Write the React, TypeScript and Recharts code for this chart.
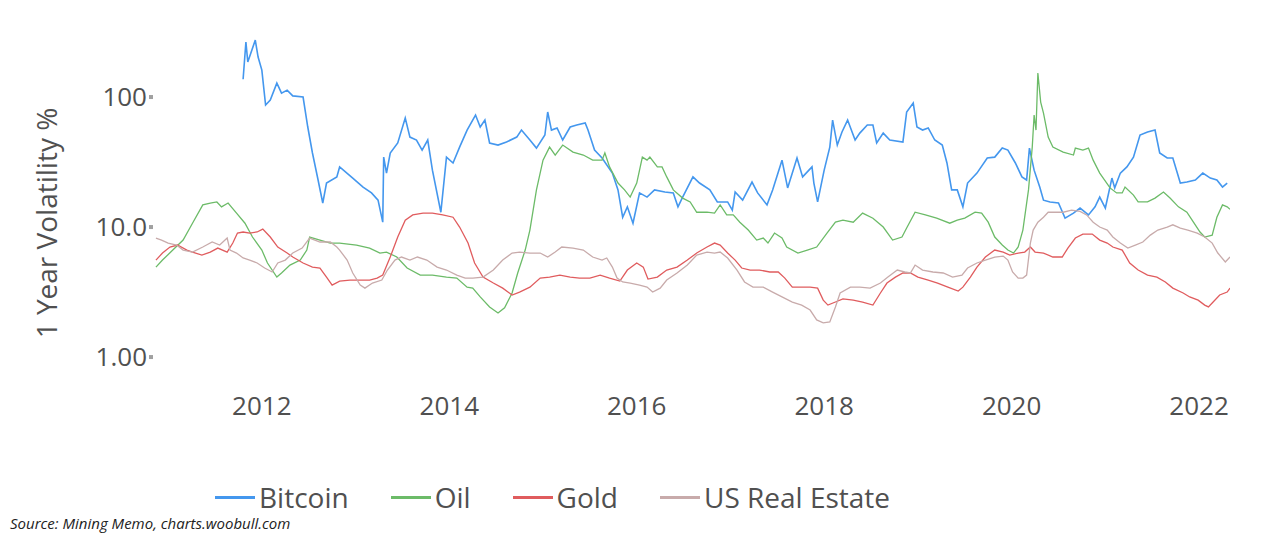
import { LineChart, Line, XAxis, YAxis } from 'recharts';

// [year, 1-year volatility %]
const bitcoin: [number, number][] = [
  [2011.8, 137], [2011.83, 265], [2011.85, 186], [2011.93, 274], [2011.96, 203], [2012.0, 161],
  [2012.04, 86.8], [2012.09, 94.8], [2012.16, 128], [2012.21, 107], [2012.27, 113], [2012.33, 102],
  [2012.44, 100], [2012.49, 58.8], [2012.54, 37.1], [2012.6, 23.0], [2012.65, 15.3], [2012.69, 21.8],
  [2012.8, 24.3], [2012.83, 29.0], [2012.97, 23.8], [2013.08, 20.3], [2013.17, 18.3], [2013.24, 16.1],
  [2013.29, 10.9], [2013.3, 34.5], [2013.33, 26.0], [2013.37, 37.1], [2013.45, 44.3], [2013.53, 68.9],
  [2013.58, 49.2], [2013.65, 46.7], [2013.71, 39.1], [2013.77, 46.7], [2013.82, 27.4], [2013.91, 13.0],
  [2013.97, 34.5], [2014.04, 31.1], [2014.11, 41.2], [2014.19, 55.7], [2014.28, 72.7], [2014.33, 58.8],
  [2014.38, 66.5], [2014.43, 44.3], [2014.52, 42.7], [2014.61, 45.1], [2014.72, 49.2], [2014.77, 55.7],
  [2014.86, 46.7], [2014.93, 40.5], [2015.02, 51.0], [2015.05, 76.7], [2015.09, 55.7], [2015.15, 57.8],
  [2015.21, 46.7], [2015.29, 58.8], [2015.36, 60.9], [2015.45, 63.1], [2015.48, 55.7], [2015.55, 39.1],
  [2015.63, 34.0], [2015.74, 26.0], [2015.8, 19.3], [2015.85, 11.9], [2015.9, 14.3], [2015.96, 10.7],
  [2016.03, 18.3], [2016.11, 17.0], [2016.19, 19.3], [2016.3, 18.6], [2016.39, 18.3], [2016.44, 14.3],
  [2016.49, 17.0], [2016.6, 24.3], [2016.67, 21.8], [2016.78, 19.3], [2016.86, 15.6], [2016.97, 15.6],
  [2017.02, 13.5], [2017.05, 18.6], [2017.13, 16.1], [2017.23, 22.2], [2017.29, 18.3], [2017.39, 14.8],
  [2017.45, 19.3], [2017.55, 32.7], [2017.61, 20.0], [2017.71, 34.0], [2017.77, 24.3], [2017.87, 29.0],
  [2017.89, 21.8], [2017.93, 15.6], [2018.0, 27.4], [2018.06, 41.2], [2018.09, 66.5], [2018.14, 42.7],
  [2018.19, 53.8], [2018.25, 66.5], [2018.33, 46.7], [2018.38, 52.8], [2018.46, 60.9], [2018.52, 60.9],
  [2018.56, 44.3], [2018.63, 52.8], [2018.7, 46.7], [2018.84, 45.1], [2018.88, 76.7], [2018.95, 89.9],
  [2018.99, 58.8], [2019.05, 55.7], [2019.11, 57.8], [2019.18, 46.7], [2019.26, 42.7], [2019.31, 31.1],
  [2019.36, 19.3], [2019.42, 19.3], [2019.48, 14.3], [2019.53, 21.8], [2019.63, 26.0], [2019.74, 34.0],
  [2019.82, 34.5], [2019.9, 40.5], [2019.96, 39.1], [2020.04, 31.1], [2020.11, 24.3], [2020.16, 23.0],
  [2020.19, 40.5], [2020.24, 27.4], [2020.3, 20.3], [2020.34, 16.1], [2020.41, 15.6], [2020.5, 15.3],
  [2020.57, 11.7], [2020.66, 12.8], [2020.73, 14.0], [2020.82, 12.4], [2020.89, 14.3], [2020.94, 17.0],
  [2021.0, 14.0], [2021.07, 23.8], [2021.1, 20.0], [2021.16, 26.0], [2021.23, 29.0], [2021.3, 34.5],
  [2021.37, 51.0], [2021.45, 53.8], [2021.53, 55.7], [2021.58, 37.1], [2021.66, 34.0], [2021.72, 34.0],
  [2021.8, 21.8], [2021.87, 22.2], [2021.96, 23.0], [2022.04, 26.0], [2022.12, 23.8], [2022.19, 23.0],
  [2022.25, 20.3], [2022.3, 21.8],
];

const oil: [number, number][] = [
  [2010.87, 4.92], [2010.94, 5.57], [2011.05, 6.65], [2011.16, 7.94], [2011.26, 10.7], [2011.37, 14.8],
  [2011.45, 15.3], [2011.52, 15.6], [2011.57, 14.3], [2011.64, 15.3], [2011.73, 12.8], [2011.82, 10.7],
  [2011.9, 8.38], [2012.0, 6.65], [2012.06, 5.29], [2012.16, 4.12], [2012.21, 4.43], [2012.3, 5.1],
  [2012.41, 5.57], [2012.48, 6.65], [2012.51, 8.38], [2012.62, 7.94], [2012.73, 7.53], [2012.83, 7.53],
  [2013.01, 7.27], [2013.15, 6.89], [2013.26, 6.31], [2013.33, 6.42], [2013.44, 5.88], [2013.55, 4.84],
  [2013.69, 4.27], [2013.82, 4.27], [2013.97, 4.12], [2014.08, 4.05], [2014.19, 3.45], [2014.25, 3.39],
  [2014.33, 2.9], [2014.43, 2.43], [2014.52, 2.18], [2014.59, 2.39], [2014.67, 3.11], [2014.73, 4.43],
  [2014.81, 6.65], [2014.86, 9.48], [2014.93, 19.3], [2015.0, 32.7], [2015.07, 41.2], [2015.13, 35.8],
  [2015.21, 42.7], [2015.32, 37.7], [2015.43, 35.8], [2015.53, 32.7], [2015.63, 32.7], [2015.66, 37.1],
  [2015.71, 29.0], [2015.8, 21.8], [2015.87, 19.3], [2015.93, 17.0], [2016.0, 21.8], [2016.06, 34.5],
  [2016.11, 32.7], [2016.14, 34.5], [2016.22, 29.0], [2016.27, 29.0], [2016.32, 24.3], [2016.39, 19.3],
  [2016.49, 16.7], [2016.57, 15.6], [2016.64, 13.0], [2016.75, 13.0], [2016.83, 12.8], [2016.89, 14.8],
  [2016.96, 12.4], [2017.03, 12.4], [2017.1, 10.9], [2017.19, 9.48], [2017.28, 7.94], [2017.35, 8.23],
  [2017.4, 7.53], [2017.47, 8.99], [2017.55, 8.23], [2017.6, 7.02], [2017.72, 6.31], [2017.82, 6.65],
  [2017.92, 7.02], [2018.03, 8.99], [2018.12, 10.9], [2018.2, 11.3], [2018.31, 10.9], [2018.41, 12.8],
  [2018.52, 11.7], [2018.63, 10.0], [2018.73, 7.94], [2018.83, 8.38], [2018.88, 9.82], [2018.97, 13.0],
  [2019.08, 12.4], [2019.2, 11.7], [2019.34, 10.7], [2019.42, 11.3], [2019.5, 11.7], [2019.61, 13.0],
  [2019.68, 12.8], [2019.75, 10.9], [2019.82, 8.38], [2019.9, 7.27], [2019.96, 6.65], [2020.02, 6.31],
  [2020.07, 7.02], [2020.12, 9.48], [2020.18, 19.3], [2020.22, 41.2], [2020.24, 72.7], [2020.26, 55.7],
  [2020.28, 153], [2020.31, 91.5], [2020.34, 75.3], [2020.39, 49.2], [2020.44, 41.2], [2020.55, 37.7],
  [2020.66, 35.8], [2020.68, 40.5], [2020.76, 39.1], [2020.82, 40.5], [2020.87, 32.7], [2020.94, 26.0],
  [2021.05, 20.0], [2021.12, 18.3], [2021.18, 18.3], [2021.21, 20.3], [2021.3, 17.6], [2021.35, 15.6],
  [2021.45, 15.6], [2021.53, 16.7], [2021.62, 18.6], [2021.69, 16.7], [2021.78, 14.3], [2021.87, 13.0],
  [2021.94, 10.9], [2022.01, 9.16], [2022.06, 8.38], [2022.14, 8.67], [2022.19, 11.9], [2022.25, 14.8],
  [2022.3, 14.3], [2022.33, 13.7],
];

const gold: [number, number][] = [
  [2010.87, 5.57], [2010.94, 6.31], [2011.02, 7.02], [2011.1, 7.27], [2011.2, 6.65], [2011.26, 6.42],
  [2011.36, 6.09], [2011.45, 6.42], [2011.53, 6.89], [2011.63, 6.42], [2011.69, 7.53], [2011.74, 8.99],
  [2011.8, 9.16], [2011.87, 8.99], [2011.95, 9.16], [2012.01, 9.65], [2012.09, 8.38], [2012.17, 7.02],
  [2012.27, 6.31], [2012.33, 5.88], [2012.44, 5.29], [2012.54, 4.92], [2012.62, 4.84], [2012.69, 4.12],
  [2012.75, 3.58], [2012.83, 3.84], [2012.94, 3.91], [2013.15, 3.91], [2013.23, 4.05], [2013.29, 4.27],
  [2013.37, 5.88], [2013.45, 8.38], [2013.53, 11.3], [2013.61, 12.4], [2013.72, 12.8], [2013.82, 12.8],
  [2013.93, 12.4], [2014.04, 11.9], [2014.11, 10.0], [2014.2, 7.53], [2014.27, 5.29], [2014.36, 4.12],
  [2014.47, 3.71], [2014.57, 3.39], [2014.67, 3.0], [2014.75, 3.16], [2014.86, 3.45], [2014.97, 4.05],
  [2015.07, 4.12], [2015.18, 4.27], [2015.29, 4.12], [2015.39, 4.05], [2015.5, 4.05], [2015.61, 4.27],
  [2015.71, 4.05], [2015.82, 3.84], [2015.9, 4.67], [2016.0, 5.29], [2016.07, 4.92], [2016.12, 3.98],
  [2016.22, 4.12], [2016.32, 4.67], [2016.43, 4.92], [2016.54, 5.57], [2016.64, 6.31], [2016.75, 7.02],
  [2016.83, 7.53], [2016.89, 7.27], [2016.97, 6.31], [2017.05, 5.57], [2017.12, 4.84], [2017.21, 4.67],
  [2017.31, 4.67], [2017.42, 4.51], [2017.51, 4.51], [2017.58, 4.05], [2017.66, 3.45], [2017.85, 3.45],
  [2017.93, 3.39], [2017.99, 2.74], [2018.04, 2.51], [2018.12, 2.65], [2018.2, 2.8], [2018.31, 2.74],
  [2018.41, 2.65], [2018.52, 2.51], [2018.6, 3.11], [2018.67, 3.71], [2018.76, 4.12], [2018.84, 4.43],
  [2018.92, 4.43], [2019.0, 4.12], [2019.11, 3.91], [2019.21, 3.71], [2019.32, 3.45], [2019.43, 3.22],
  [2019.48, 3.45], [2019.56, 4.12], [2019.63, 4.92], [2019.72, 5.88], [2019.82, 6.65], [2019.91, 6.42],
  [2019.98, 6.09], [2020.07, 6.31], [2020.14, 6.42], [2020.2, 7.02], [2020.25, 6.42], [2020.34, 6.31],
  [2020.44, 5.88], [2020.54, 5.88], [2020.6, 6.89], [2020.68, 8.23], [2020.76, 8.83], [2020.86, 8.83],
  [2020.94, 7.94], [2021.02, 7.53], [2021.08, 7.02], [2021.18, 6.65], [2021.26, 5.29], [2021.35, 4.67],
  [2021.45, 4.27], [2021.55, 4.12], [2021.64, 3.78], [2021.72, 3.39], [2021.83, 3.11], [2021.9, 2.9],
  [2021.99, 2.74], [2022.06, 2.51], [2022.1, 2.43], [2022.15, 2.65], [2022.22, 3.0], [2022.3, 3.16],
  [2022.33, 3.39],
];

const realEstate: [number, number][] = [
  [2010.87, 8.23], [2010.93, 7.94], [2011.0, 7.53], [2011.09, 7.27], [2011.16, 6.65], [2011.26, 6.42],
  [2011.37, 7.02], [2011.47, 7.67], [2011.55, 7.27], [2011.63, 8.23], [2011.66, 6.65], [2011.73, 6.31],
  [2011.8, 5.78], [2011.87, 5.57], [2011.95, 5.29], [2012.03, 4.84], [2012.11, 4.51], [2012.17, 5.29],
  [2012.25, 5.57], [2012.33, 6.31], [2012.43, 6.89], [2012.51, 8.23], [2012.62, 7.67], [2012.73, 7.67],
  [2012.8, 7.02], [2012.83, 6.65], [2012.91, 5.57], [2012.97, 4.43], [2013.05, 3.58], [2013.1, 3.39],
  [2013.18, 3.71], [2013.28, 3.91], [2013.34, 4.67], [2013.42, 5.57], [2013.49, 5.88], [2013.58, 5.57],
  [2013.66, 5.88], [2013.76, 5.57], [2013.87, 4.92], [2013.97, 4.67], [2014.08, 4.27], [2014.17, 4.05],
  [2014.25, 4.05], [2014.36, 4.12], [2014.47, 4.67], [2014.57, 5.57], [2014.67, 6.31], [2014.75, 6.42],
  [2014.86, 6.31], [2014.97, 6.31], [2015.05, 5.88], [2015.13, 6.42], [2015.2, 7.02], [2015.32, 6.89],
  [2015.43, 6.65], [2015.53, 5.88], [2015.63, 5.57], [2015.68, 5.78], [2015.74, 4.92], [2015.79, 4.05],
  [2015.85, 3.78], [2015.93, 3.71], [2016.03, 3.58], [2016.11, 3.45], [2016.17, 3.16], [2016.25, 3.39],
  [2016.32, 3.91], [2016.43, 4.43], [2016.54, 5.1], [2016.64, 6.09], [2016.75, 6.42], [2016.83, 6.31],
  [2016.89, 6.42], [2016.97, 5.78], [2017.07, 4.67], [2017.15, 3.78], [2017.24, 3.45], [2017.35, 3.45],
  [2017.45, 3.16], [2017.55, 2.9], [2017.66, 2.65], [2017.76, 2.51], [2017.85, 2.3], [2017.92, 1.93],
  [2017.99, 1.83], [2018.06, 1.86], [2018.12, 2.43], [2018.17, 3.11], [2018.28, 3.45], [2018.38, 3.45],
  [2018.49, 3.39], [2018.6, 3.71], [2018.68, 4.12], [2018.78, 4.67], [2018.86, 4.51], [2018.92, 4.43],
  [2018.97, 5.1], [2019.05, 4.67], [2019.16, 4.51], [2019.27, 4.43], [2019.37, 4.12], [2019.47, 4.27],
  [2019.53, 4.84], [2019.63, 5.29], [2019.72, 5.57], [2019.82, 5.88], [2019.91, 5.98], [2019.96, 5.57],
  [2020.01, 4.51], [2020.07, 4.05], [2020.12, 4.05], [2020.16, 4.27], [2020.2, 7.53], [2020.23, 9.48],
  [2020.28, 10.9], [2020.34, 11.9], [2020.39, 13.0], [2020.55, 13.0], [2020.64, 13.5], [2020.73, 13.2],
  [2020.8, 12.4], [2020.87, 10.9], [2020.94, 10.0], [2021.02, 9.48], [2021.08, 8.38], [2021.16, 7.53],
  [2021.24, 6.89], [2021.32, 7.27], [2021.4, 7.67], [2021.48, 8.67], [2021.56, 9.48], [2021.66, 10.0],
  [2021.72, 10.4], [2021.8, 9.82], [2021.88, 9.48], [2021.98, 8.99], [2022.06, 8.38], [2022.14, 7.53],
  [2022.2, 6.31], [2022.28, 5.38], [2022.33, 5.88],
];

const yearTicks = [2012, 2014, 2016, 2018, 2020, 2022];
const volTicks = [1, 10, 100];
const volTickLabels: Record<number, string> = { 1: '1.00', 10: '10.0', 100: '100' };

const series = [
  { name: 'Bitcoin', points: bitcoin, color: '#4497ee', width: 1.6 },
  { name: 'Oil', points: oil, color: '#6cbb68', width: 1.3 },
  { name: 'Gold', points: gold, color: '#e05c5e', width: 1.3 },
  { name: 'US Real Estate', points: realEstate, color: '#c8abab', width: 1.3 },
];

const FONT = '"Open Sans", sans-serif';
const TEXT = '#505050';

const YTick = ({ y, payload }: { y?: number; payload?: { value: number } }) => (
  <g>
    <text x={147} y={(y ?? 0) + 9} textAnchor="end" fontSize={26} fill={TEXT} fontFamily={FONT}>
      {volTickLabels[payload?.value ?? 0]}
    </text>
    <rect x={149} y={(y ?? 0) - 2} width={4} height={4} fill="#a0a0a0" />
  </g>
);

const XTick = ({ x, payload }: { x?: number; payload?: { value: number } }) => (
  <text x={x} y={415} textAnchor="middle" fontSize={26} fill={TEXT} fontFamily={FONT}>
    {payload?.value}
  </text>
);

export default function App() {
  return (
    <div style={{ position: 'absolute', left: 0, top: 0, width: 1280, height: 545, background: '#fff' }}>
      <LineChart width={1280} height={545} margin={{ top: 35, right: 50, bottom: 117, left: 80 }}>
        <XAxis
          type="number"
          dataKey="t"
          domain={[2010.86, 2022.33]}
          ticks={yearTicks}
          allowDataOverflow
          axisLine={false}
          tickLine={false}
          height={40}
          tick={<XTick />}
        />
        <YAxis
          type="number"
          scale="log"
          domain={[0.578, 300]}
          ticks={volTicks}
          allowDataOverflow
          axisLine={false}
          tickLine={false}
          width={75}
          tick={<YTick />}
        />
        {series.map((s) => (
          <Line
            key={s.name}
            data={s.points.map(([t, v]) => ({ t, v }))}
            dataKey="v"
            name={s.name}
            stroke={s.color}
            strokeWidth={s.width}
            dot={false}
            isAnimationActive={false}
          />
        ))}
        <text
          x={46}
          y={223}
          transform="rotate(-90 46 223)"
          textAnchor="middle"
          dominantBaseline="central"
          fontSize={28}
          fill={TEXT}
          fontFamily={FONT}
        >
          1 Year Volatility %
        </text>
      </LineChart>
      <div
        style={{
          position: 'absolute',
          left: 215,
          top: 479,
          display: 'flex',
          gap: 42,
          fontFamily: FONT,
          fontSize: 28,
          color: TEXT,
          lineHeight: '36px',
        }}
      >
        {series.map((s) => (
          <div key={s.name} style={{ display: 'flex', alignItems: 'center', gap: 4 }}>
            <span style={{ width: 40, height: 3, background: s.color, display: 'inline-block' }} />
            <span>{s.name}</span>
          </div>
        ))}
      </div>
      <div
        style={{
          position: 'absolute',
          left: 10,
          top: 513,
          fontFamily: FONT,
          fontStyle: 'italic',
          fontSize: 15,
          color: '#222',
        }}
      >
        Source: Mining Memo, charts.woobull.com
      </div>
    </div>
  );
}
